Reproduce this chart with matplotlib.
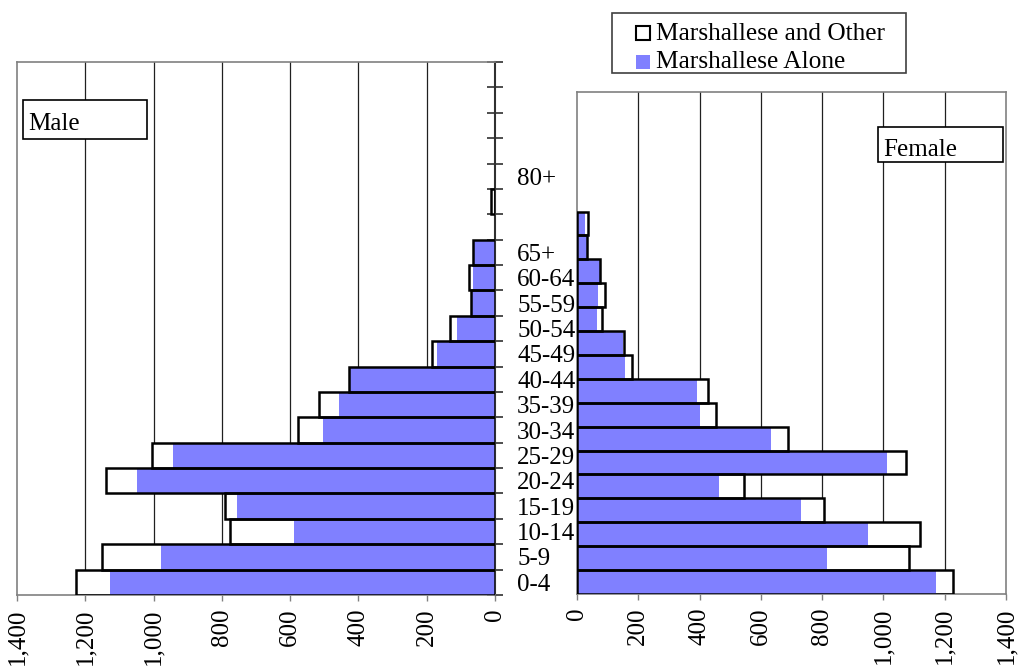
import matplotlib
matplotlib.use('Agg')
import matplotlib.pyplot as plt
from matplotlib.patches import Rectangle
from matplotlib.ticker import FuncFormatter
import numpy as np

# Age groups, bottom to top (21 slots on the category axis)
age_groups = ['0-4', '5-9', '10-14', '15-19', '20-24', '25-29', '30-34',
              '35-39', '40-44', '45-49', '50-54', '55-59', '60-64', '65+',
              '', '', '80+', '', '', '', '']

# Male population
male_total = [1227, 1150, 777, 790, 1140, 1005, 576, 515, 428, 185, 132,
              70, 77, 64, 0, 13, 0, 0, 0, 0, 0]
male_alone = [1127, 978, 590, 755, 1049, 942, 505, 456, 428, 171, 112,
              70, 64, 64, 0, 0, 0, 0, 0, 0, 0]

# Female population
female_total = [1227, 1083, 1119, 807, 545, 1073, 688, 455, 429, 178, 155,
                82, 90, 76, 32, 37, 0, 0, 0, 0, 0]
female_alone = [1170, 817, 951, 732, 462, 1012, 633, 401, 391, 157, 151,
                64, 70, 76, 32, 26, 0, 0, 0, 0, 0]

legend_labels = ['Marshallese and Other', 'Marshallese Alone']
x_ticks = [0, 200, 400, 600, 800, 1000, 1200, 1400]

FILL = '#8080ff'
GRAY = '#808080'

plt.rcParams['font.family'] = ['Liberation Serif', 'DejaVu Serif']

W, H = 1019, 666
fig = plt.figure(figsize=(W / 100, H / 100), dpi=100)


def px_axes(x0, y0, x1, y1):
    return fig.add_axes([x0 / W, 1 - y1 / H, (x1 - x0) / W, (y1 - y0) / H])


def px_rect(x0, y0, x1, y1, **kw):
    fig.add_artist(Rectangle((x0 / W, 1 - y1 / H), (x1 - x0) / W, (y1 - y0) / H,
                             transform=fig.transFigure, **kw))


def px_text(x, y, s, **kw):
    fig.text(x / W, 1 - y / H, s, **kw)


ax_m = px_axes(17, 62, 495, 595)
ax_f = px_axes(577, 92, 1006, 594)

n = len(age_groups)
ypos = np.arange(n) + 0.5

for ax, total, alone in ((ax_m, male_total, male_alone),
                         (ax_f, female_total, female_alone)):
    t = np.array(total, dtype=float)
    a = np.array(alone, dtype=float)
    mt = t > 0
    ma = a > 0
    ax.barh(ypos[mt], t[mt], height=1.0, color='white', edgecolor='none', zorder=2)
    ax.barh(ypos[ma], a[ma], height=1.0, color=FILL, edgecolor='none', zorder=3)
    ax.barh(ypos[mt], t[mt], height=1.0, fill=False, edgecolor='black',
            linewidth=1.8, zorder=4)
    ax.set_ylim(0, n)
    for g in x_ticks[1:-1]:
        ax.axvline(g, color='#202020', linewidth=0.9, zorder=1)
    ax.set_xticks(x_ticks)
    ax.xaxis.set_major_formatter(FuncFormatter(lambda v, p: f'{int(v):,}'))
    ax.tick_params(axis='x', direction='out', length=4, color=GRAY, width=1,
                   labelsize=18, labelrotation=90, pad=6)
    for lab in ax.get_xticklabels():
        lab.set_va('top')
    for s in ax.spines.values():
        s.set_color(GRAY)
        s.set_linewidth(1.2)

ax_m.set_xlim(1400, 0)
ax_f.set_xlim(0, 1400)

# Category axis on the right edge of the male panel
ax_m.yaxis.tick_right()
ax_m.set_yticks(np.arange(n + 1))
ax_m.set_yticklabels([])
ax_m.tick_params(axis='y', which='major', direction='inout', length=11,
                 width=1.2, color='#303030', left=False, right=True)
ax_m.set_yticks(ypos, minor=True)
ax_m.set_yticklabels(age_groups, minor=True)
ax_m.tick_params(axis='y', which='minor', length=0, pad=16, labelsize=18,
                 labelright=True, labelleft=False, left=False, right=False)
ax_m.spines['right'].set_color('#303030')
ax_m.spines['right'].set_linewidth(1.5)

ax_f.set_yticks([])

# Panel captions
for (x0, y0, x1, y1, tx, base, label) in ((23, 100, 147, 139, 28, 129.5, 'Male'),
                                          (878, 127, 1003, 162, 883, 156, 'Female')):
    px_rect(x0, y0, x1, y1, facecolor='white', edgecolor='black',
            linewidth=1.2, zorder=5)
    px_text(tx, base, label, fontsize=18, ha='left', va='baseline', zorder=6)

# Legend box
px_rect(612, 13, 906, 73, facecolor='white', edgecolor='#404040',
        linewidth=1.2, zorder=5)
legend_styles = [dict(facecolor='white', edgecolor='black', linewidth=1.5),
                 dict(facecolor=FILL, edgecolor='none')]
for label, style, base in zip(legend_labels, legend_styles, (40, 68.5)):
    px_rect(636, base - 14, 650, base, zorder=6, **style)
    px_text(656, base, label, fontsize=18.3, ha='left', va='baseline', zorder=6)

fig.savefig('out.png', dpi=100)
